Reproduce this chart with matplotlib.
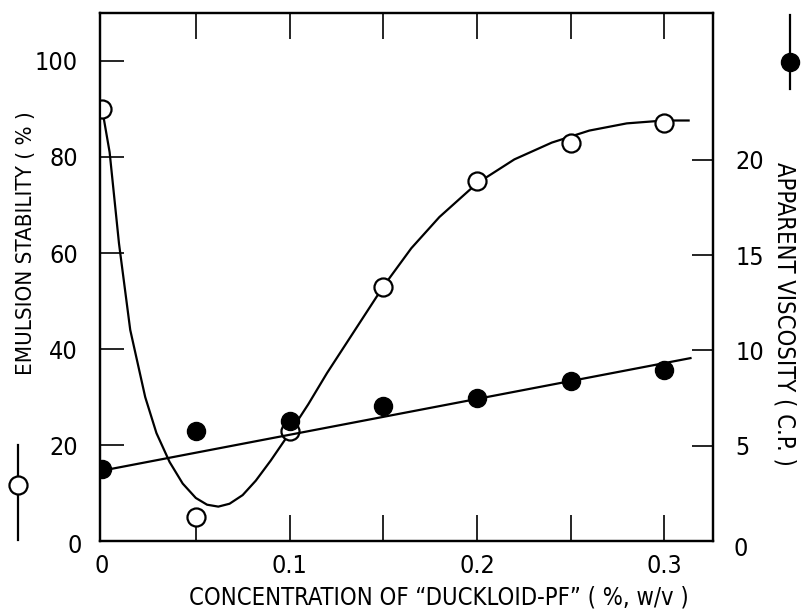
import matplotlib
matplotlib.use("Agg")
import matplotlib.pyplot as plt
import numpy as np

plt.rcParams['font.family'] = ['DejaVu Sans']
plt.rcParams['font.stretch'] = 'condensed'

# measured points
conc = [0.0, 0.05, 0.10, 0.15, 0.20, 0.25, 0.30]
stability = [90, 5, 23, 53, 75, 83, 87]
viscosity = [3.8, 5.8, 6.3, 7.1, 7.5, 8.4, 9.0]

# hand drawn curve through the stability points
curve_x = [0.0, 0.004, 0.009, 0.015, 0.023, 0.029, 0.036, 0.043, 0.050, 0.056,
           0.062, 0.068, 0.075, 0.082, 0.090, 0.100, 0.110, 0.120, 0.135, 0.150,
           0.165, 0.180, 0.200, 0.220, 0.240, 0.260, 0.280, 0.300, 0.313]
curve_y = [90, 81, 62, 44, 30, 22.5, 16.5, 12.0, 9.0, 7.6,
           7.2, 7.8, 9.6, 12.6, 16.8, 22.5, 28.5, 35, 44, 53,
           61, 67.5, 74.5, 79.5, 83, 85.5, 87, 87.6, 87.6]

# straight line through viscosity points
line_x = [0.0, 0.314]
line_y = [3.7, 9.6]

fig = plt.figure(figsize=(8.02, 6.15), dpi=100)
ax = fig.add_axes([0.125, 0.12, 0.764, 0.859])
ax2 = ax.twinx()

ax.plot(curve_x, curve_y, color='black', lw=1.6, zorder=2)
ax.plot(conc, stability, 'o', ms=13, mfc='white', mec='black', mew=1.6, zorder=3)
ax2.plot(line_x, line_y, color='black', lw=1.6, zorder=2)
ax2.plot(conc, viscosity, 'o', ms=13, mfc='black', mec='black', zorder=3)

ax.set_xlim(-0.001, 0.326)
ax.set_ylim(0, 110)
ax2.set_ylim(0, 27.7)

ax.set_xticks(np.arange(0, 0.31, 0.05))
ax.set_xticklabels(['0', '', '0.1', '', '0.2', '', '0.3'])
ax.set_yticks([20, 40, 60, 80, 100])
ax2.set_yticks([5, 10, 15, 20])

ax.tick_params(axis='x', direction='in', length=19, width=1.2, top=True,
               labelsize=18, pad=9)
ax.tick_params(axis='y', direction='in', length=17, width=1.2, labelsize=18, pad=16)
ax2.tick_params(axis='y', direction='in', length=15, width=1.2, labelsize=18, pad=16)
t0 = ax.xaxis.get_major_ticks()[0]
t0.tick1line.set_visible(False)
t0.tick2line.set_visible(False)

fig.text(0.102, 0.113, '0', fontsize=18, ha='right', va='center')
fig.text(0.914, 0.107, '0', fontsize=18, ha='left', va='center')

for sp in ax.spines.values():
    sp.set_linewidth(1.6)
for sp in ax2.spines.values():
    sp.set_linewidth(1.6)

fig.text(0.033, 0.605, 'EMULSION STABILITY ( % )', fontsize=16, rotation=90,
         ha='center', va='center')
fig.text(0.978, 0.49, 'APPARENT VISCOSITY ( C.P. )', fontsize=17, rotation=-90,
         ha='center', va='center')
fig.text(0.547, 0.028, 'CONCENTRATION OF \u201cDUCKLOID-PF\u201d ( %, w/v )', fontsize=17,
         ha='center', va='center')

# key symbols beside the axes
fig.lines.append(plt.Line2D([0.022, 0.022], [0.122, 0.277], transform=fig.transFigure,
                            color='black', lw=1.6))
fig.lines.append(plt.Line2D([0.022], [0.211], transform=fig.transFigure, marker='o',
                            ms=13, mfc='white', mec='black', mew=1.6))
fig.lines.append(plt.Line2D([0.985, 0.985], [0.855, 0.975], transform=fig.transFigure,
                            color='black', lw=1.6))
fig.lines.append(plt.Line2D([0.985], [0.9], transform=fig.transFigure, marker='o',
                            ms=13, mfc='black', mec='black'))

fig.savefig('out.png', dpi=100)
